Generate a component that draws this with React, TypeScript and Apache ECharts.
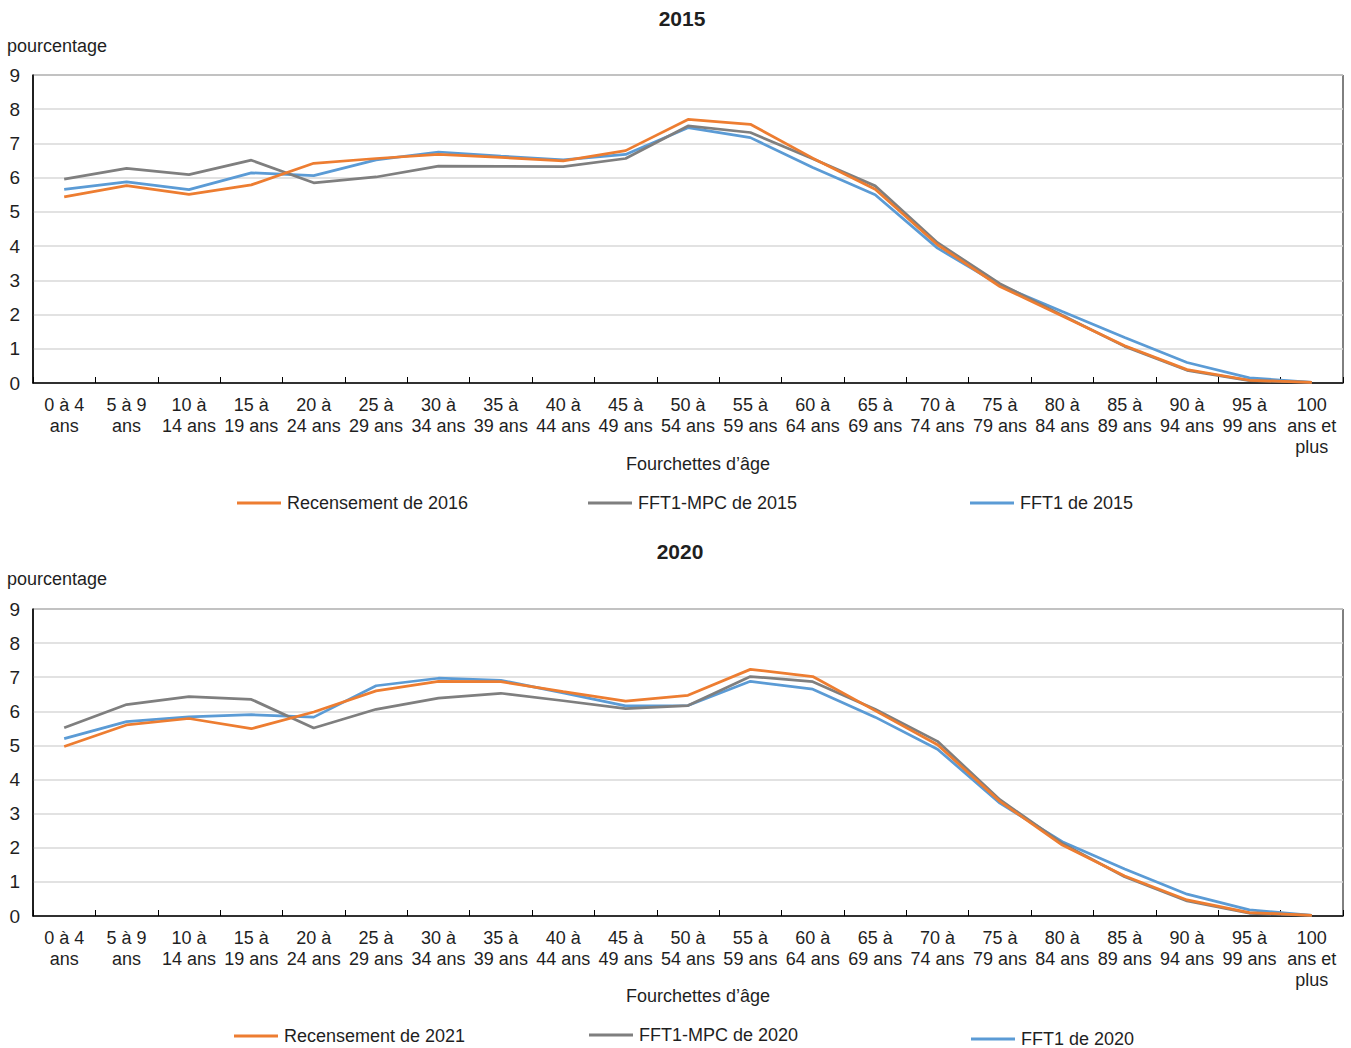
import React, { useEffect, useRef } from "react";
import * as echarts from "echarts";

const categories = [
  "0 à 4\nans", "5 à 9\nans", "10 à\n14 ans", "15 à\n19 ans", "20 à\n24 ans",
  "25 à\n29 ans", "30 à\n34 ans", "35 à\n39 ans", "40 à\n44 ans", "45 à\n49 ans",
  "50 à\n54 ans", "55 à\n59 ans", "60 à\n64 ans", "65 à\n69 ans", "70 à\n74 ans",
  "75 à\n79 ans", "80 à\n84 ans", "85 à\n89 ans", "90 à\n94 ans", "95 à\n99 ans",
  "100\nans et\nplus",
];

const yTicks = [0, 1, 2, 3, 4, 5, 6, 7, 8, 9];

// 2015 panel
const recensement2016 = [5.44, 5.77, 5.51, 5.79, 6.42, 6.56, 6.68, 6.59, 6.49, 6.79, 7.70, 7.56, 6.57, 5.66, 4.04, 2.82, 1.96, 1.09, 0.39, 0.08, 0.02];
const fft1mpc2015 = [5.96, 6.27, 6.09, 6.51, 5.85, 6.02, 6.34, 6.33, 6.32, 6.56, 7.51, 7.32, 6.55, 5.76, 4.10, 2.90, 1.98, 1.07, 0.37, 0.07, 0.02];
const fft12015 = [5.66, 5.88, 5.65, 6.14, 6.06, 6.52, 6.75, 6.63, 6.52, 6.68, 7.46, 7.17, 6.30, 5.50, 3.94, 2.86, 2.09, 1.33, 0.60, 0.15, 0.02];

// 2020 panel
const recensement2021 = [4.97, 5.60, 5.79, 5.49, 5.98, 6.60, 6.88, 6.87, 6.58, 6.30, 6.47, 7.23, 7.02, 6.02, 5.02, 3.36, 2.08, 1.17, 0.47, 0.10, 0.02];
const fft1mpc2020 = [5.52, 6.20, 6.43, 6.35, 5.51, 6.06, 6.39, 6.53, 6.31, 6.08, 6.17, 7.02, 6.87, 6.06, 5.12, 3.41, 2.13, 1.15, 0.44, 0.08, 0.02];
const fft12020 = [5.20, 5.70, 5.84, 5.90, 5.83, 6.75, 6.97, 6.91, 6.54, 6.16, 6.17, 6.88, 6.65, 5.83, 4.89, 3.31, 2.18, 1.38, 0.64, 0.18, 0.02];

const panelTitles = ["2015", "2020"];
const seriesNames = [
  ["Recensement de 2016", "FFT1-MPC de 2015", "FFT1 de 2015"],
  ["Recensement de 2021", "FFT1-MPC de 2020", "FFT1 de 2020"],
];
const seriesData = [
  [recensement2016, fft1mpc2015, fft12015],
  [recensement2021, fft1mpc2020, fft12020],
];
const colors = ["#ED7D31", "#7F7F7F", "#5B9BD5"];

const FONT = "'Liberation Sans', Arial, sans-serif";
const TXT = "#1f1f1f";

export default function App() {
  const ref = useRef<HTMLDivElement>(null);

  useEffect(() => {
    if (!ref.current) return;
    const chart = echarts.init(ref.current, null, { renderer: "svg" });

    const grids = [
      { left: 33, top: 75, width: 1310, height: 308 },
      { left: 33, top: 609, width: 1310, height: 307 },
    ];

    const legendPos = [
      [
        { left: 237, top: 494 },
        { left: 588, top: 494 },
        { left: 970, top: 494 },
      ],
      [
        { left: 234, top: 1027 },
        { left: 589, top: 1026 },
        { left: 971, top: 1030 },
      ],
    ];

    const titleY = [18, 551];
    const titleX = [682, 680];
    const pctY = [46, 579];
    const axisNameY = [464, 996];

    const graphic: any[] = [];
    for (let p = 0; p < 2; p++) {
      graphic.push({
        type: "text",
        style: {
          text: panelTitles[p], x: titleX[p], y: titleY[p], textAlign: "center", textVerticalAlign: "middle",
          fontSize: 21, fontWeight: "bold", fontFamily: FONT, fill: TXT,
        },
      });
      graphic.push({
        type: "text",
        style: {
          text: "pourcentage", x: 7, y: pctY[p], textAlign: "left", textVerticalAlign: "middle",
          fontSize: 18, fontFamily: FONT, fill: TXT,
        },
      });
      graphic.push({
        type: "text",
        style: {
          text: "Fourchettes d’âge", x: 698, y: axisNameY[p], textAlign: "center", textVerticalAlign: "middle",
          fontSize: 18, fontFamily: FONT, fill: TXT,
        },
      });
    }

    const legends: any[] = [];
    const series: any[] = [];
    for (let p = 0; p < 2; p++) {
      for (let s = 0; s < 3; s++) {
        legends.push({
          left: legendPos[p][s].left,
          top: legendPos[p][s].top,
          data: [seriesNames[p][s]],
          icon: "rect",
          itemWidth: 44,
          itemHeight: 3,
          padding: 0,
          selectedMode: false,
          textStyle: { fontSize: 18, fontFamily: FONT, color: TXT, padding: [0, 0, 0, 1] },
        });
        series.push({
          type: "line",
          name: seriesNames[p][s],
          xAxisIndex: p,
          yAxisIndex: p,
          data: seriesData[p][s],
          symbol: "none",
          showSymbol: false,
          lineStyle: { color: colors[s], width: 2.75 },
          itemStyle: { color: colors[s] },
          z: 3 - s + 2,
        });
      }
    }

    const option: any = {
      animation: false,
      backgroundColor: "#fff",
      textStyle: { fontFamily: FONT },
      grid: grids.map((g) => ({ ...g, show: true, borderColor: "#000", borderWidth: 1, backgroundColor: "transparent", containLabel: false })),
      xAxis: grids.map((_, i) => ({
        type: "category",
        gridIndex: i,
        data: categories,
        boundaryGap: true,
        axisLine: { show: true, lineStyle: { color: "#000", width: 1.5 } },
        axisTick: { show: true, inside: true, length: 6, alignWithLabel: false, lineStyle: { color: "#000", width: 1 } },
        axisLabel: {
          interval: 0, margin: 11, fontSize: 18, lineHeight: 21, color: TXT, fontFamily: FONT, align: "center",
        },
        splitLine: { show: false },
      })),
      yAxis: grids.map((_, i) => ({
        type: "value",
        gridIndex: i,
        min: yTicks[0],
        max: yTicks[yTicks.length - 1],
        interval: 1,
        axisLine: { show: true, lineStyle: { color: "#000", width: 1.5 } },
        axisTick: { show: false },
        axisLabel: { margin: 13, fontSize: 19, color: TXT, fontFamily: FONT },
        splitLine: { show: true, lineStyle: { color: "#d9d9d9", width: 1.5 } },
      })),
      legend: legends,
      series,
      graphic,
    };

    chart.setOption(option);
    return () => chart.dispose();
  }, []);

  return (
    <div
      ref={ref}
      style={{ position: "fixed", left: 0, top: 0, width: 1351, height: 1048, background: "#fff" }}
    />
  );
}
